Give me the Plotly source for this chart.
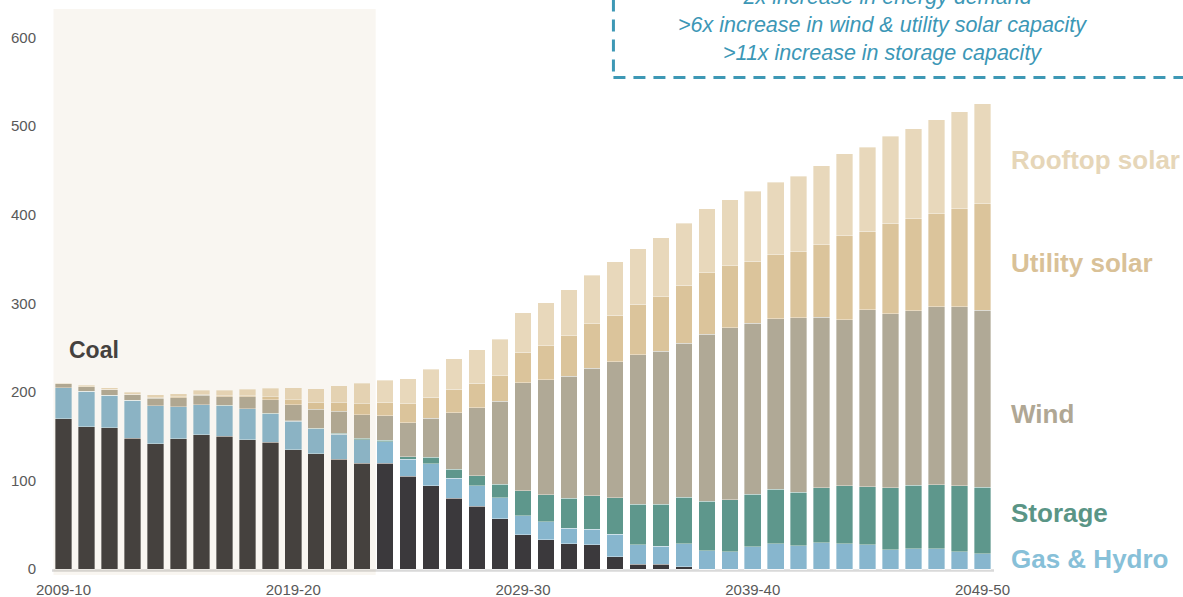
import plotly.graph_objects as go

# Financial years shown on the category axis
years = [
    "2009-10", "2010-11", "2011-12", "2012-13", "2013-14", "2014-15", "2015-16",
    "2016-17", "2017-18", "2018-19", "2019-20", "2020-21", "2021-22", "2022-23",
    "2023-24", "2024-25", "2025-26", "2026-27", "2027-28", "2028-29", "2029-30",
    "2030-31", "2031-32", "2032-33", "2033-34", "2034-35", "2035-36", "2036-37",
    "2037-38", "2038-39", "2039-40", "2040-41", "2041-42", "2042-43", "2043-44",
    "2044-45", "2045-46", "2046-47", "2047-48", "2048-49", "2049-50",
]
tick_years = ["2009-10", "2019-20", "2029-30", "2039-40", "2049-50"]
y_ticks = [0, 100, 200, 300, 400, 500, 600]

# Energy by source (TWh)
coal = [170, 161, 159.5, 148, 141.5, 147, 151.5, 150, 146, 143.5, 135, 130.5, 124, 119.5,
        119.5, 105, 94, 80, 71, 57, 39, 33, 29, 27.5, 14, 5.5, 5.5, 2.8, 0, 0, 0,
        0, 0, 0, 0, 0, 0, 0, 0, 0, 0]
gas_hydro = [35, 40, 36.5, 42.5, 43, 36.5, 34, 34.5, 35, 32, 32, 28, 28.5, 26.5,
             24.5, 19, 25, 22.5, 23, 23.5, 21.5, 20.5, 17.5, 17.5, 25.5, 22, 20.5, 26,
             21, 19.5, 25.5, 28.5, 26.5, 30, 28.5, 27.5, 22, 23, 23, 19.5, 17.5]
storage = [0, 0, 0, 0, 0, 0, 0, 0.3, 0.3, 0.3, 0.5, 0.6, 1.1, 1.9, 1.5, 3, 7.2, 10.2,
           11.7, 15.4, 28.2, 30.8, 33.5, 37.9, 41.4, 45.9, 47.4, 52.3, 55.6, 59, 59,
           61.7, 60.1, 62, 65.8, 65.4, 69.9, 71.8, 72.5, 74.8, 75.1]
wind = [4, 5, 6.7, 6.4, 8.3, 10, 11, 10, 13.5, 15.5, 18.2, 21.2, 24.5, 26.6, 27.5,
        38.3, 44, 63.8, 76.7, 93.6, 121.4, 129.2, 137.5, 144, 153.3, 168.3, 172.5,
        173.6, 188.3, 194, 192.8, 192.4, 197.3, 192, 187.2, 199.9, 196.5, 196.9,
        200.7, 201.8, 199.6]
utility_solar = [0, 0, 0.3, 0.5, 1.5, 1, 1, 1.5, 1, 3.4, 5.7, 7.9, 10.1, 12.8, 14.6,
                 21.5, 23.6, 26.4, 27.4, 28.6, 34.6, 38.8, 45.8, 50, 52.6, 57.5, 61.6,
                 65.4, 69.5, 69.9, 70.2, 72.2, 74.4, 82.3, 94.7, 88.4, 101.9, 103.7,
                 104.9, 110.5, 120.2]
rooftop_solar = [1, 1.5, 1.6, 2.5, 2.3, 3.5, 4.5, 5.5, 7.5, 9.7, 13.1, 15.4, 18.8,
                 22.6, 25.6, 28.2, 32, 34.5, 37.6, 41.3, 44.7, 48.4, 51.9, 54.8, 59.8,
                 62.4, 66.5, 70.2, 72.1, 74.7, 78.9, 81.9, 85.3, 88.7, 92.4, 95, 98.4,
                 101.5, 105.9, 109.4, 112.8]

series = [
    ("Coal", coal, "#3b393c"),
    ("Gas & Hydro", gas_hydro, "#87b6ce"),
    ("Storage", storage, "#5e978c"),
    ("Wind", wind, "#b0a996"),
    ("Utility solar", utility_solar, "#dbc49b"),
    ("Rooftop solar", rooftop_solar, "#e8d8bb"),
]

FONT = "Arial, Liberation Sans, sans-serif"

fig = go.Figure()
for name, vals, color in series:
    fig.add_trace(go.Bar(
        x=years, y=vals, name=name,
        marker=dict(color=color, line=dict(color="rgba(255,255,255,0.6)", width=0.6)),
        hovertemplate="%{x}: %{y}<extra>" + name + "</extra>",
    ))

# Series labels to the right of the bars
side_labels = [
    ("Rooftop solar", 462, "#e6d6b8"),
    ("Utility solar", 345.5, "#d9c197"),
    ("Wind", 175.6, "#b0a794"),
    ("Storage", 63.9, "#5a9586"),
    ("Gas & Hydro", 11.3, "#87c0d8"),
]
annotations = []
for text, yv, color in side_labels:
    annotations.append(dict(
        text="<b>" + text + "</b>", x=1.0155, xref="paper", y=yv, yref="y",
        xanchor="left", yanchor="middle", showarrow=False,
        font=dict(family=FONT, size=26, color=color),
    ))

annotations.append(dict(
    text="<b>Coal</b>", x=0.16, xref="x", y=247.8, yref="y",
    xanchor="left", yanchor="middle", showarrow=False,
    font=dict(family=FONT, size=23, color="#45413e"),
))

# Callout text in the dashed box
callout = [
    ("~2x increase in energy demand", 1.022),
    (">6x increase in wind & utility solar capacity", 0.9717),
    (">11x increase in storage capacity", 0.9215),
]
for text, yp in callout:
    annotations.append(dict(
        text="<i>" + text + "</i>", x=0.8815, xref="paper", y=yp, yref="paper",
        xanchor="center", yanchor="middle", showarrow=False,
        font=dict(family=FONT, size=21.5, color="#3c97b6"),
    ))

shapes = [
    # baseline
    dict(type="line", xref="x", yref="y", x0=-0.5, x1=40.5, y0=-1.3, y1=-1.3,
         line=dict(color="#d9d9d9", width=2.5), layer="below"),
    # coal era highlight
    dict(type="rect", xref="x", yref="y", x0=-0.436, x1=13.59, y0=-6.5, y1=632,
         fillcolor="rgba(186,152,94,0.087)", line=dict(width=0), layer="above"),
    # dashed callout box
    dict(type="rect", xref="paper", yref="paper", x0=0.596, x1=1.4, y0=0.879, y1=1.2,
         line=dict(color="#3d98b5", width=3, dash="12px,8px"), fillcolor="rgba(0,0,0,0)"),
]

fig.update_layout(
    width=1183, height=597,
    margin=dict(l=52, r=189, t=9, b=22),
    barmode="stack", bargap=0.28,
    paper_bgcolor="white", plot_bgcolor="white",
    showlegend=False,
    font=dict(family=FONT, size=15, color="#595959"),
    annotations=annotations,
    shapes=shapes,
    xaxis=dict(
        type="category", range=[-0.5, 40.5], automargin=False,
        tickmode="array", tickvals=tick_years, ticktext=tick_years,
        ticks="outside", ticklen=1, tickcolor="rgba(0,0,0,0)",
        showgrid=False, showline=False, zeroline=False,
        tickfont=dict(family=FONT, size=15, color="#595959"),
    ),
    yaxis=dict(
        range=[-6.5, 632], automargin=False,
        tickmode="array", tickvals=y_ticks,
        ticks="outside", ticklen=12, tickcolor="rgba(0,0,0,0)",
        showgrid=False, showline=False, zeroline=False,
        tickfont=dict(family=FONT, size=15, color="#595959"),
    ),
)

fig.write_html("out.html")
